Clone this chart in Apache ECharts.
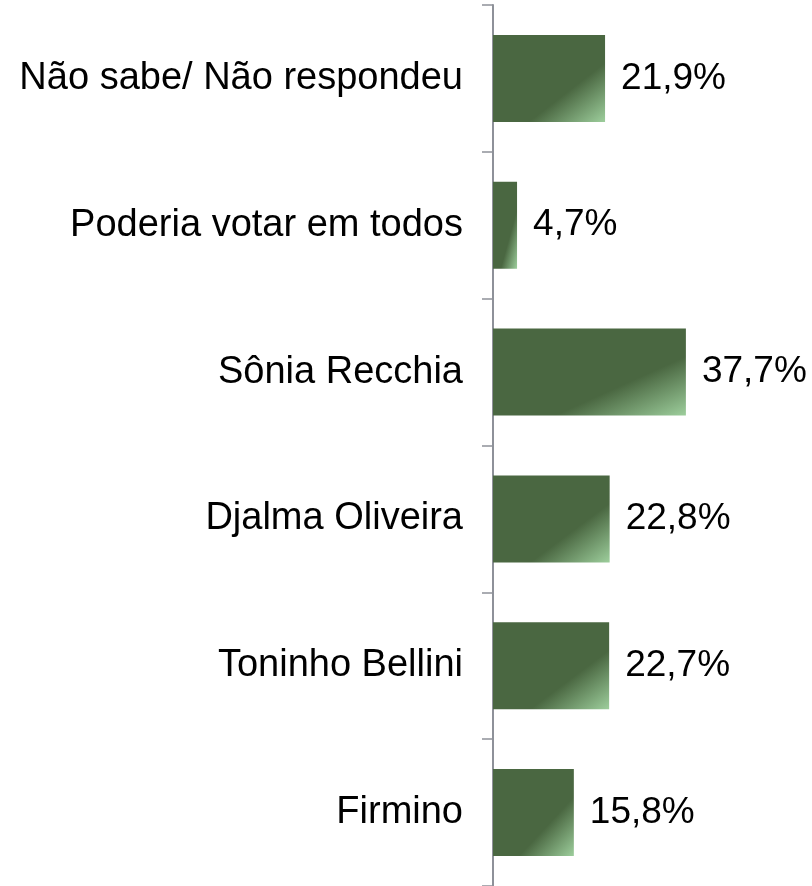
<!DOCTYPE html>
<html>
<head>
<meta charset="utf-8">
<script src="https://cdn.jsdelivr.net/npm/echarts@6/dist/echarts.min.js"></script>
<style>
  html, body { margin: 0; padding: 0; background: #fff; }
  #chart { width: 812px; height: 886px; }
</style>
</head>
<body>
<div id="chart"></div>
<script>
// categorias de cima para baixo
const candidatos = ['Não sabe/ Não respondeu', 'Poderia votar em todos', 'Sônia Recchia', 'Djalma Oliveira', 'Toninho Bellini', 'Firmino']
const percentuais = [21.9, 4.7, 37.7, 22.8, 22.7, 15.8]

const chart = echarts.init(document.getElementById('chart'))

const gridWidth = 307
const xMax = 60
const barH = 87

// gradiente diagonal (canto sup. esq. -> inf. dir.), como no Excel
function barColor(v) {
  const w = v * gridWidth / xMax
  const h = barH
  const k = 2 * w * h / (w * w + h * h)
  return {
    type: 'linear', x: 0, y: 0, x2: k * h / w, y2: k * w / h,
    colorStops: [
      { offset: 0, color: '#4a6741' },
      { offset: 0.66, color: '#4a6741' },
      { offset: 1, color: '#9dce9c' }
    ]
  }
}

const option = {
  animation: false,
  grid: { left: 493, top: 5, width: gridWidth, height: 883 },
  xAxis: {
    type: 'value', min: 0, max: xMax,
    show: false
  },
  yAxis: {
    type: 'category',
    data: candidatos,
    inverse: true,
    axisLine: { show: true, lineStyle: { color: '#8e9199', width: 2 } },
    axisTick: { show: true, length: 11, lineStyle: { color: '#8e9199', width: 1.5 } },
    axisLabel: {
      margin: 30, fontSize: 38, color: '#000',
      fontFamily: 'Liberation Sans, Arial, sans-serif'
    }
  },
  series: [{
    type: 'bar',
    data: percentuais.map(v => ({ value: v, itemStyle: { color: barColor(v) } })),
    barWidth: barH,
    label: {
      show: true, position: 'right', distance: 16,
      fontSize: 37, color: '#000',
      fontFamily: 'Liberation Sans, Arial, sans-serif',
      formatter: p => p.value.toFixed(1).replace('.', ',') + '%'
    }
  }]
}

chart.setOption(option)
</script>
</body>
</html>
